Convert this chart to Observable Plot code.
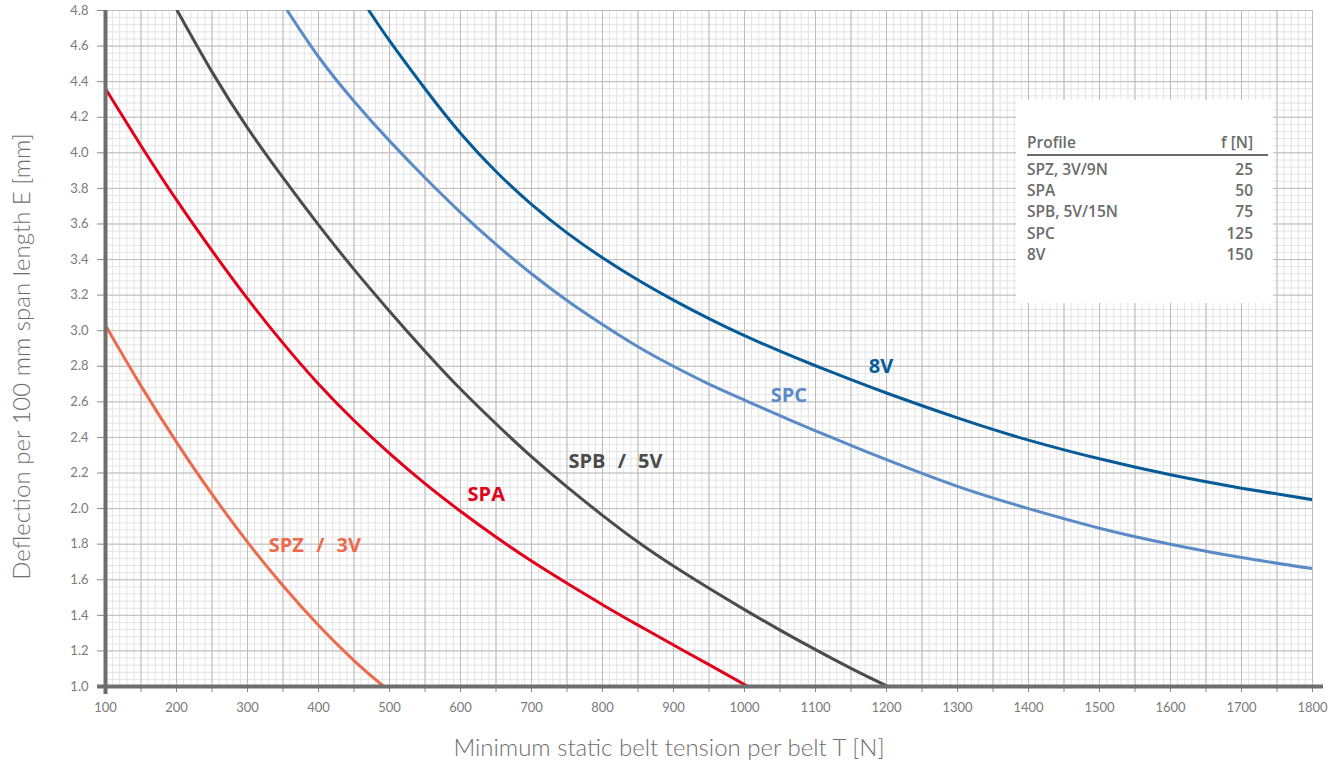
<!DOCTYPE html>
<html>
<head>
<meta charset="utf-8">
<script src="https://cdn.jsdelivr.net/npm/d3@7"></script>
<script src="https://cdn.jsdelivr.net/npm/@observablehq/plot@0.6"></script>
<style>
  body { margin: 0; background: #fff; }
  #wrap { position: relative; width: 1342px; height: 769px; }
  #legend {
    position: absolute; left: 1016px; top: 100px; width: 257px; height: 203px;
    background: #fff; font-family: "Open Sans", sans-serif; font-weight: 600;
    font-size: 15.5px; color: #6b6b6b; box-sizing: border-box; padding-left: 11px;
  }
  #legend .hdr { margin-top: 32px; width: 241px; box-sizing: border-box; padding-right: 15px;
    border-bottom: 2px solid #6b6b6b; display: flex; justify-content: space-between; line-height: 21px; padding-bottom: 1px; }
  #legend .rows { margin-top: 3px; }
  #legend .row { width: 226px; display: flex; justify-content: space-between; line-height: 21.2px; }
</style>
</head>
<body>
<div id="wrap"></div>
<script>
// ---- data ----
const profiles = ["SPZ / 3V", "SPA", "SPB / 5V", "SPC", "8V"];

const spzT = [100, 150, 200, 250, 300, 350, 400, 450, 492];
const spzE = [3.03, 2.69, 2.374, 2.081, 1.812, 1.566, 1.344, 1.146, 1.0];

const spaT = [100, 150, 200, 250, 300, 350, 400, 450, 500, 550, 600, 650, 700, 750, 800, 850, 900, 950, 1005];
const spaE = [4.36, 4.04, 3.735, 3.45, 3.18, 2.93, 2.70, 2.495, 2.31, 2.14, 1.985, 1.84, 1.705, 1.58, 1.46, 1.345, 1.233, 1.123, 1.0];

const spbT = [201, 250, 300, 350, 400, 450, 500, 550, 600, 650, 700, 750, 800, 850, 900, 950, 1000, 1050, 1100, 1150, 1202];
const spbE = [4.8, 4.455, 4.14, 3.86, 3.595, 3.345, 3.11, 2.885, 2.672, 2.477, 2.292, 2.122, 1.962, 1.812, 1.677, 1.552, 1.432, 1.317, 1.207, 1.102, 1.0];

const spcT = [356, 400, 450, 500, 550, 600, 650, 700, 750, 800, 850, 900, 950, 1000, 1050, 1100, 1150, 1200, 1300, 1400, 1500, 1600, 1700, 1800];
const spcE = [4.8, 4.54, 4.29, 4.067, 3.86, 3.665, 3.485, 3.32, 3.17, 3.035, 2.91, 2.80, 2.70, 2.61, 2.522, 2.437, 2.355, 2.275, 2.125, 2.0, 1.89, 1.80, 1.725, 1.663];

const v8T = [471, 500, 550, 600, 650, 700, 750, 800, 850, 900, 950, 1000, 1050, 1100, 1150, 1200, 1300, 1400, 1500, 1600, 1700, 1800];
const v8E = [4.8, 4.63, 4.36, 4.11, 3.895, 3.71, 3.55, 3.41, 3.285, 3.172, 3.068, 2.972, 2.885, 2.803, 2.725, 2.65, 2.51, 2.385, 2.28, 2.19, 2.115, 2.05];

// curve label anchors (data units)
const labelT = [330, 610, 752, 1037, 1175];
const labelE = [1.79, 2.08, 2.265, 2.635, 2.80];

const xTicks = d3.range(100, 1801, 100);
const yTicks = d3.range(0, 20).map(i => +(1 + i * 0.2).toFixed(1));

const legendProfiles = ["SPZ, 3V/9N", "SPA", "SPB, 5V/15N", "SPC", "8V"];
const legendForces = [25, 50, 75, 125, 150];

// ---- styles ----
const colors = ["#ee6a4c", "#e2001a", "#4b4b4b", "#5b8bc7", "#065b97"];

const seriesT = [spzT, spaT, spbT, spcT, v8T];
const seriesE = [spzE, spaE, spbE, spcE, v8E];
const rows = profiles.flatMap((p, k) => seriesT[k].map((t, i) => ({profile: p, T: t, E: seriesE[k][i]})));
const labels = profiles.map((p, k) => ({profile: p, T: labelT[k], E: labelE[k]}));

const minorX = d3.range(100, 1801, 10);
const minorY = d3.range(0, 96).map(i => 1 + i * 0.04);
const midX = d3.range(100, 1801, 50);

const chart = Plot.plot({
  width: 1342,
  height: 769,
  marginTop: 10,
  marginBottom: 83,
  marginLeft: 105,
  marginRight: 30,
  style: {fontFamily: "Lato, sans-serif", fontSize: "13px", color: "#777", background: "#fff", overflow: "visible"},
  x: {domain: [100, 1800], label: null},
  y: {domain: [1, 4.8], label: null},
  color: {domain: profiles, range: colors},
  marks: [
    Plot.ruleX(minorX, {stroke: "#e3e3e3", strokeWidth: 1}),
    Plot.ruleY(minorY, {stroke: "#e3e3e3", strokeWidth: 1}),
    Plot.ruleX(midX, {stroke: "#bcbcbc", strokeWidth: 1}),
    Plot.ruleY(yTicks, {stroke: "#bcbcbc", strokeWidth: 1}),
    Plot.line(rows, {x: "T", y: "E", z: "profile", stroke: "profile", strokeWidth: 3, curve: "natural", clip: true}),
    Plot.text(labels, {x: "T", y: "E", text: "profile", fill: "profile", textAnchor: "start", fontSize: 20, fontWeight: 700, fontFamily: "Open Sans, sans-serif"}),
    Plot.axisX({ticks: midX, tickSize: 6, tickFormat: () => "", stroke: "#888", label: null}),
    Plot.axisX({ticks: xTicks, tickSize: 0, tickPadding: 16, fontSize: 13, fill: "#7a7a7a", tickFormat: d3.format("d"), label: null}),
    Plot.axisY({ticks: yTicks, tickSize: 8, tickPadding: 9, tickFormat: d3.format(".1f"), stroke: "#888", fill: "#7a7a7a", fontSize: 13, label: null}),
    Plot.ruleY([1], {stroke: "#6e6e6e", strokeWidth: 4, insetLeft: -8, insetRight: -11}),
    Plot.ruleX([100], {stroke: "#6e6e6e", strokeWidth: 4, insetBottom: -8}),
    Plot.text(["Minimum static belt tension per belt T [N]"], {frameAnchor: "bottom", dx: -40, dy: 62, lineAnchor: "middle", textAnchor: "middle", fontSize: 24, fontWeight: 300, fill: "#6e6e6e", fontFamily: "Lato, sans-serif"}),
    Plot.text(["Deflection per 100 mm span length E [mm]"], {frameAnchor: "left", dx: -83, dy: 8, rotate: -90, lineAnchor: "middle", textAnchor: "middle", fontSize: 24, fontWeight: 300, fill: "#6e6e6e", fontFamily: "Lato, sans-serif"})
  ]
});

// slightly wider spaces around the slash in curve labels, as in the original
d3.select(chart).selectAll("text").filter(function () { return /\s\/\s/.test(this.textContent); }).style("word-spacing", "7px");

const wrap = document.getElementById("wrap");
wrap.appendChild(chart);

const legend = document.createElement("div");
legend.id = "legend";
legend.innerHTML = `<div class="hdr"><span>Profile</span><span>f [N]</span></div>` +
  `<div class="rows">` + legendProfiles.map((p, i) => `<div class="row"><span>${p}</span><span>${legendForces[i]}</span></div>`).join("") + `</div>`;
wrap.appendChild(legend);
</script>
</body>
</html>
